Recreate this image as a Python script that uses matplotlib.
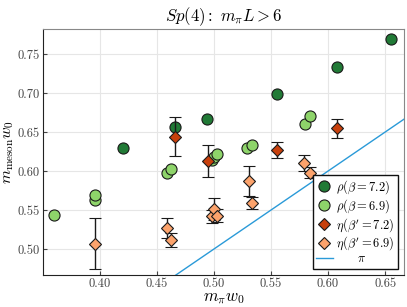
import matplotlib
matplotlib.use("Agg")
import matplotlib.pyplot as plt
import numpy as np

plt.rcParams['font.family'] = 'serif'
plt.rcParams['font.serif'] = ['cmr10']
plt.rcParams['mathtext.fontset'] = 'cm'
plt.rcParams['axes.formatter.use_mathtext'] = True

# rho, beta = 7.2
rho72_x = [0.420, 0.466, 0.494, 0.555, 0.608, 0.655]
rho72_y = [0.629, 0.656, 0.667, 0.699, 0.733, 0.769]

# rho, beta = 6.9
rho69_x = [0.360, 0.396, 0.396, 0.459, 0.462, 0.498, 0.500, 0.503, 0.529, 0.533, 0.580, 0.584]
rho69_y = [0.544, 0.563, 0.569, 0.597, 0.603, 0.614, 0.618, 0.622, 0.630, 0.634, 0.660, 0.670]

# eta, beta' = 7.2
eta72_x = [0.466, 0.495, 0.555, 0.608]
eta72_y = [0.644, 0.613, 0.627, 0.655]
eta72_e = [0.025, 0.021, 0.010, 0.012]

# eta, beta' = 6.9
eta69_x = [0.396, 0.459, 0.462, 0.498, 0.500, 0.503, 0.531, 0.533, 0.579, 0.584]
eta69_y = [0.507, 0.527, 0.511, 0.542, 0.551, 0.543, 0.587, 0.559, 0.610, 0.598]
eta69_e = [0.033, 0.013, 0.009, 0.008, 0.014, 0.008, 0.019, 0.008, 0.010, 0.007]

pi_x = [0.35, 0.67]

fig, ax = plt.subplots(figsize=(4.07, 3.07), dpi=100)

h1, = ax.plot(rho72_x, rho72_y, 'o', color='#217a36', mec='#1a1a1a', mew=0.8, ms=8,
              label=r'$\rho(\beta=7.2)$', zorder=3)
h2, = ax.plot(rho69_x, rho69_y, 'o', color='#8ed46a', mec='#1a1a1a', mew=0.8, ms=8,
              label=r'$\rho(\beta=6.9)$', zorder=3)
h3 = ax.errorbar(eta72_x, eta72_y, yerr=eta72_e, fmt='D', color='#c8400c', mec='#1a1a1a',
                 mew=0.8, ms=6.5, ecolor='#1a1a1a', elinewidth=1, capsize=4.5,
                 label=r"$\eta(\beta'=7.2)$", zorder=4)
h4 = ax.errorbar(eta69_x, eta69_y, yerr=eta69_e, fmt='D', color='#fca36c', mec='#1a1a1a',
                 mew=0.8, ms=6.5, ecolor='#1a1a1a', elinewidth=1, capsize=4.5,
                 label=r"$\eta(\beta'=6.9)$", zorder=4)
h5, = ax.plot(pi_x, pi_x, '-', color='#2a9ad8', lw=1, label=r'$\qquad\pi$', zorder=2)

ax.set_xlim(0.35, 0.6667)
ax.set_ylim(0.467, 0.782)
ax.set_xticks([0.40, 0.45, 0.50, 0.55, 0.60, 0.65])
ax.set_yticks([0.50, 0.55, 0.60, 0.65, 0.70, 0.75])
ax.xaxis.set_major_formatter(matplotlib.ticker.FormatStrFormatter('%.2f'))
ax.yaxis.set_major_formatter(matplotlib.ticker.FormatStrFormatter('%.2f'))
ax.grid(True, color='#e6e6e6', lw=0.8)
ax.set_axisbelow(True)
ax.tick_params(direction='in', length=3, labelsize=9, colors='#444444', pad=2)
for s in ['top', 'right']:
    ax.spines[s].set_color('#888888')
for s in ['left', 'bottom']:
    ax.spines[s].set_color('#222222')

ax.set_xlabel(r'$m_\pi w_0$', fontsize=12, labelpad=1)
ax.set_ylabel(r'$m_{\rm meson} w_0$', fontsize=11.5)
ax.yaxis.set_label_coords(-0.075, 0.5)
ax.set_title(r'$Sp(4):\ m_\pi L > 6$', fontsize=12)

# eta handles without error bars in the legend
h3m = h3.lines[0]
h4m = h4.lines[0]
leg = ax.legend([h1, h2, h3m, h4m, h5],
                [h1.get_label(), h2.get_label(), h3.get_label(), h4.get_label(), h5.get_label()],
                loc='lower right', fontsize=9, numpoints=1, handlelength=1.3,
                handletextpad=0.3, borderpad=0.25, labelspacing=0.08,
                fancybox=False, framealpha=1, borderaxespad=0.5)
leg.get_frame().set_edgecolor('#111111')
leg.get_frame().set_linewidth(1)

fig.subplots_adjust(left=0.105, right=0.993, top=0.905, bottom=0.105)
fig.savefig('out.png', dpi=100)
